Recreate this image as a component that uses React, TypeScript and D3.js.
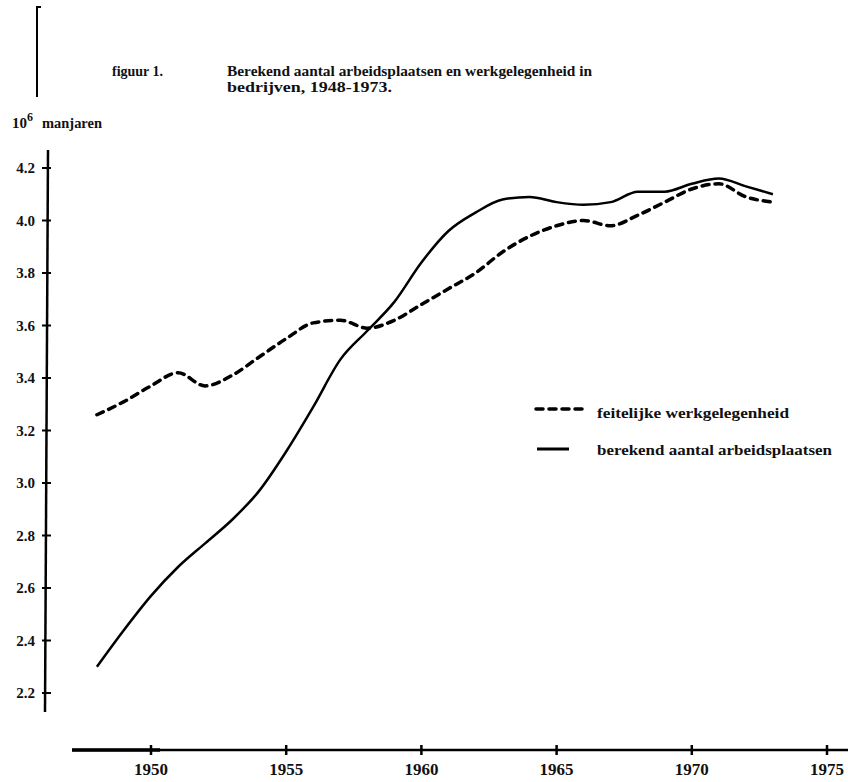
import React from 'react';
import * as d3 from 'd3';

// jaren en waarden (10^6 manjaren)
const years = [1948, 1949, 1950, 1951, 1952, 1953, 1954, 1955, 1956, 1957, 1958, 1959, 1960,
  1961, 1962, 1963, 1964, 1965, 1966, 1967, 1968, 1969, 1970, 1971, 1972, 1973];
const feitelijk = [3.26, 3.31, 3.37, 3.42, 3.37, 3.41, 3.48, 3.55, 3.61, 3.62, 3.59, 3.62, 3.68,
  3.74, 3.80, 3.88, 3.94, 3.98, 4.00, 3.98, 4.02, 4.07, 4.12, 4.14, 4.09, 4.07];
const berekend = [2.30, 2.44, 2.57, 2.68, 2.77, 2.86, 2.97, 3.12, 3.29, 3.47, 3.58, 3.69, 3.84,
  3.96, 4.03, 4.08, 4.09, 4.07, 4.06, 4.07, 4.11, 4.11, 4.14, 4.16, 4.13, 4.10];
const yTicks = [2.2, 2.4, 2.6, 2.8, 3.0, 3.2, 3.4, 3.6, 3.8, 4.0, 4.2];
const xTicks = [1950, 1955, 1960, 1965, 1970, 1975];
const legendLabels = ['feitelijke werkgelegenheid', 'berekend aantal arbeidsplaatsen'];

const font = '"Liberation Serif", "DejaVu Serif", serif';

const App = () => {
  const x = d3.scaleLinear().domain([1950, 1975]).range([151, 827]);
  const y = d3.scaleLinear().domain([2.2, 4.2]).range([693, 168]);
  const axisX = 46;
  const axisY = 750;

  const line = d3.line<number>()
    .x((_, i) => x(years[i]))
    .y(d => y(d))
    .curve(d3.curveMonotoneX);

  return (
    <svg width={848} height={782} style={{ position: 'absolute', left: 0, top: 0, background: '#fff' }}
      fontFamily={font} fontWeight="bold" fill="#111">
      {/* losse lijn linksboven (rand van de pagina) */}
      <line x1={37} y1={6} x2={37} y2={97} stroke="#000" strokeWidth={2} />
      <line x1={37} y1={7} x2={41} y2={7} stroke="#000" strokeWidth={2} />

      <text x={112} y={76} fontSize={14}>figuur 1.</text>
      <text x={227} y={76} fontSize={14} textLength={365} lengthAdjust="spacingAndGlyphs">
        Berekend aantal arbeidsplaatsen en  werkgelegenheid in</text>
      <text x={227} y={92} fontSize={14} textLength={165} lengthAdjust="spacingAndGlyphs">
        bedrijven, 1948-1973.</text>

      <text x={12} y={128} fontSize={15}>10<tspan dy={-7} fontSize={12}>6</tspan></text>
      <text x={42} y={128} fontSize={15} textLength={60} lengthAdjust="spacingAndGlyphs">manjaren</text>

      {/* y-as */}
      <line x1={axisX + 2} y1={150} x2={axisX - 1} y2={712} stroke="#000" strokeWidth={2.5} />
      {yTicks.map(t => (
        <g key={t}>
          <line x1={axisX - 4} x2={axisX + 5} y1={y(t)} y2={y(t)} stroke="#000" strokeWidth={2} />
          <text x={35} y={y(t) + 5} fontSize={15} textAnchor="end">{d3.format('.1f')(t)}</text>
        </g>
      ))}

      {/* x-as */}
      <line x1={72} y1={axisY} x2={848} y2={axisY} stroke="#000" strokeWidth={2.5} />
      <line x1={72} y1={axisY} x2={160} y2={axisY} stroke="#000" strokeWidth={3.5} />
      {xTicks.map(t => (
        <g key={t}>
          <line x1={x(t)} x2={x(t)} y1={axisY - 5} y2={axisY + 5} stroke="#000" strokeWidth={2.5} />
          <text x={x(t)} y={axisY + 25} fontSize={16} textAnchor="middle" textLength={34}
            lengthAdjust="spacingAndGlyphs">{t}</text>
        </g>
      ))}

      <path d={line(feitelijk) ?? ''} fill="none" stroke="#000" strokeWidth={3.5}
        strokeDasharray="7 6" strokeLinecap="round" />
      <path d={line(berekend) ?? ''} fill="none" stroke="#000" strokeWidth={2.5} />

      {/* legenda */}
      <line x1={536} x2={582} y1={409} y2={409} stroke="#000" strokeWidth={3.5}
        strokeDasharray="7 6" strokeLinecap="round" />
      <text x={597} y={418} fontSize={15} textLength={192} lengthAdjust="spacingAndGlyphs">{legendLabels[0]}</text>
      <line x1={537} x2={569} y1={449} y2={449} stroke="#000" strokeWidth={3} />
      <text x={597} y={455} fontSize={15} textLength={235} lengthAdjust="spacingAndGlyphs">{legendLabels[1]}</text>
    </svg>
  );
};

export default App;
